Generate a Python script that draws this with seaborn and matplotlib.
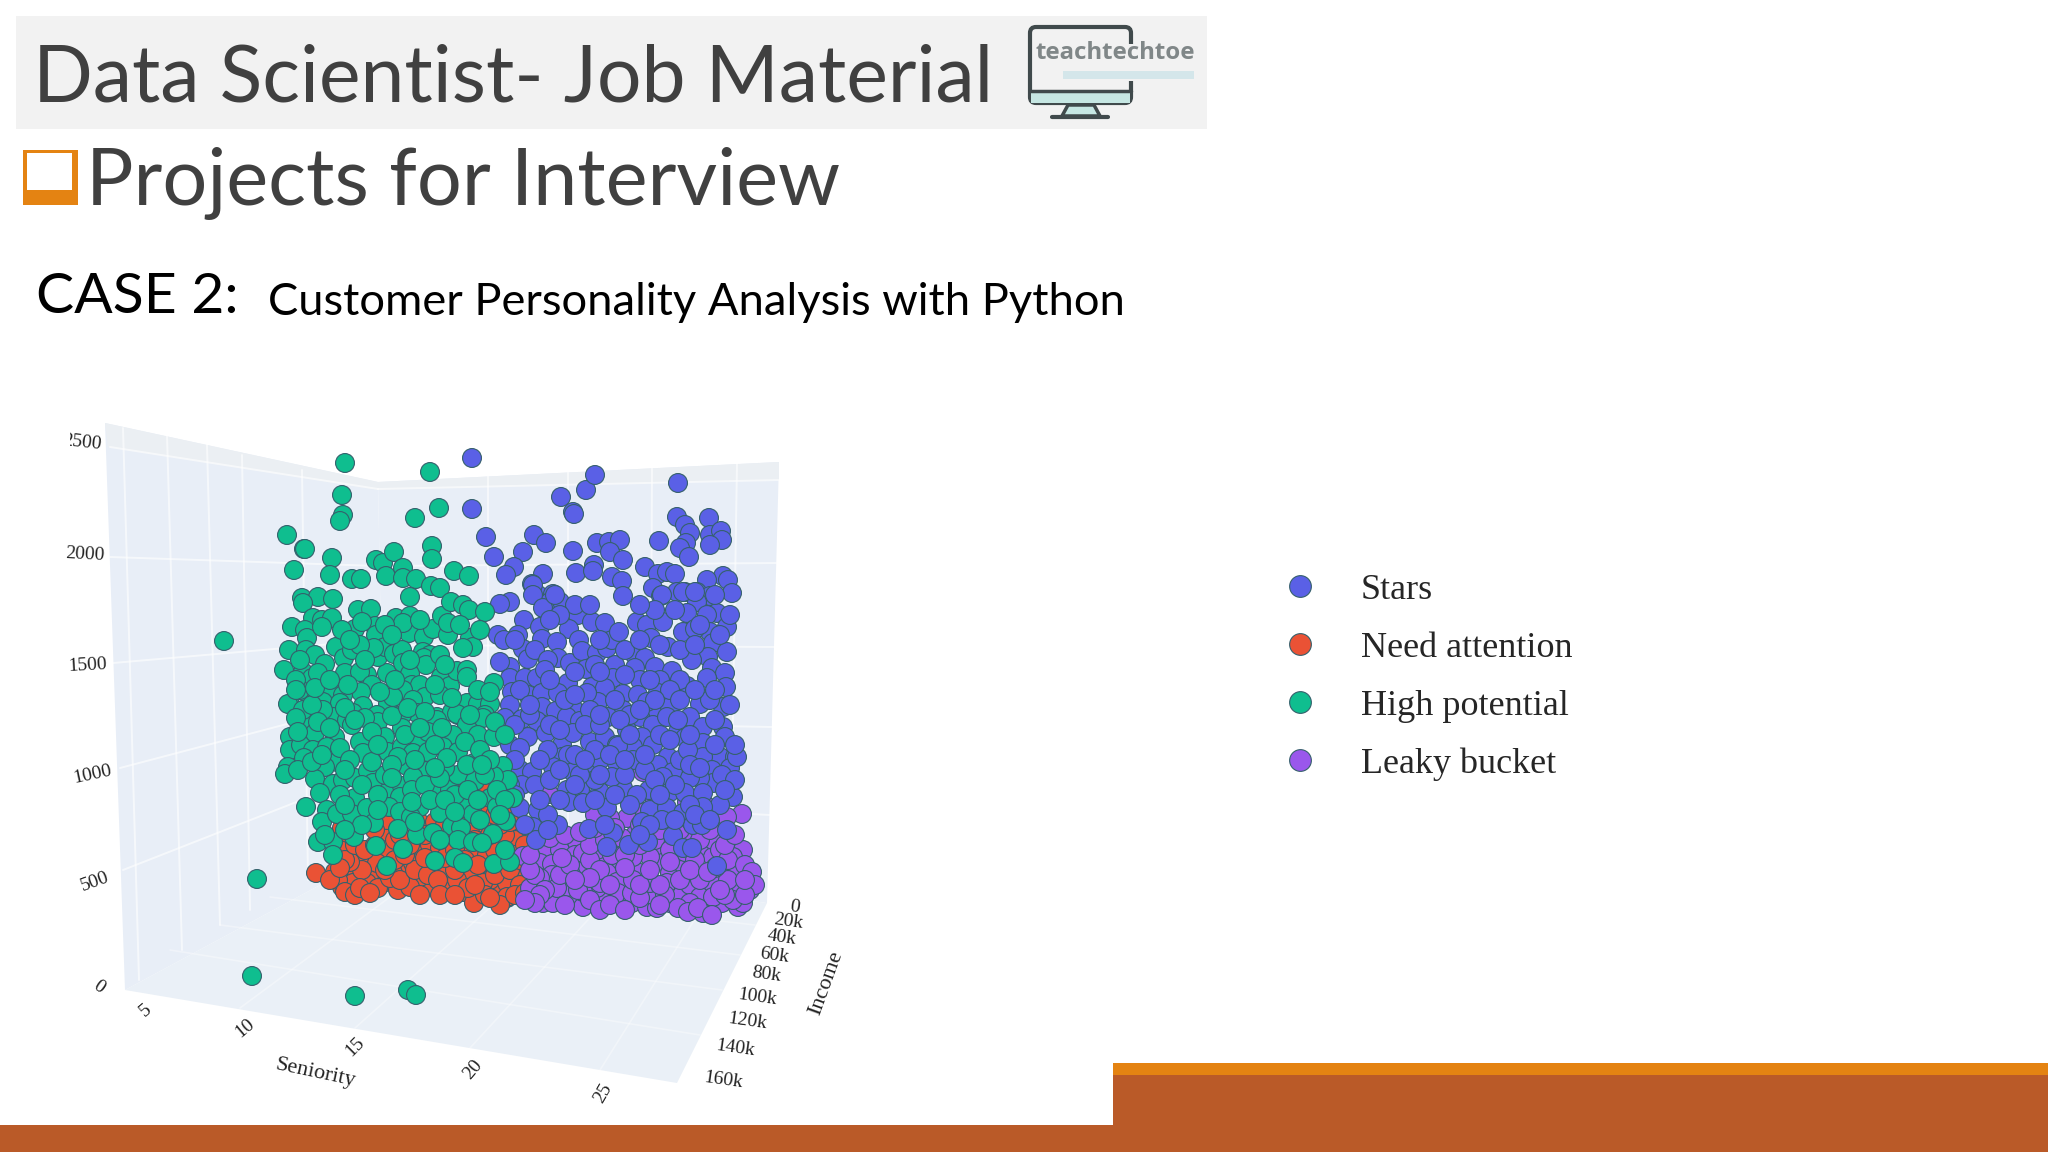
import matplotlib
matplotlib.use("Agg")
import matplotlib.pyplot as plt
from matplotlib.patches import Polygon, Rectangle, FancyBboxPatch
import pandas as pd
import seaborn as sns

# values, in the units of the flat projected chart
high_potential = [
(224,641),(257,879),(252,976),(355,996),(408,990),(416,995),(345,463),(430,472),(342,495),(343,515),(340,521),
(439,508),(415,518),(287,535),(304,549),(294,570),(332,558),(330,575),(432,546),(432,559),
(305,549),(352,579),(361,579),(376,560),(383,563),(394,552),(386,576),(403,568),(403,578),(416,579),(431,586),
(440,588),(454,571),(469,576),(410,597),(302,598),(318,597),(333,599),(303,603),(313,618),(322,620),(332,618),
(292,627),(305,630),(307,638),(322,627),(358,610),(371,609),(355,629),(375,626),(376,635),(362,622),(396,618),
(410,616),(409,633),(403,623),(424,637),(433,629),(442,616),(451,602),(463,605),(469,610),(485,612),(448,635),
(448,623),(470,638),(473,647),(463,648),(289,650),(306,650),(315,655),(336,647),(344,658),(325,664),(284,670),
(303,672),(312,678),(318,673),(345,673),(367,675),(360,672),(387,673),(378,657),(385,647),(374,648),(394,654),
(402,650),(403,663),(423,652),(430,655),(424,658),(426,665),(410,674),(412,685),(420,685),(441,677),(450,686),
(457,671),(467,670),(467,677),(494,683),(372,685),(361,692),(403,690),(308,694),(332,692),(343,695),(290,704),
(323,702),(340,703),(363,706),(388,704),(393,697),(425,697),(440,695),(413,700),(467,703),(478,704),(490,704),
(303,712),(320,710),(333,717),(377,715),(417,713),(437,717),(452,712),(458,715),(485,715),(353,713),(402,715),
(288,704),(307,722),(303,710),(323,710),(347,720),(378,722),(360,742),(385,737),(402,728),(417,740),(437,720),
(428,732),(457,714),(467,725),(483,718),(478,735),(453,735),(494,737),(443,747),(290,737),(290,750),(301,745),
(315,733),(335,737),(313,750),(304,758),(327,747),(337,762),(325,767),(288,767),(285,774),(298,770),(315,779),
(333,784),(320,793),(343,780),(355,778),(368,771),(373,783),(363,753),(388,752),(402,747),(413,753),(428,752),
(407,766),(398,757),(426,771),(388,792),(402,786),(385,775),(413,777),(355,798),(400,797),(436,786),(450,790),
(458,752),(474,763),(458,775),(475,781),(503,766),(508,780),(494,776),(467,765),(445,768),(513,798),(306,807),
(327,810),(322,822),(337,814),(352,814),(367,808),(389,807),(400,812),(420,807),(411,817),(440,813),(465,808),
(473,814),(490,798),(497,807),(506,821),(374,823),(398,829),(417,835),(433,833),(452,826),(461,828),(493,834),
(354,837),(318,842),(333,842),(333,855),(376,846),(403,849),(458,840),(473,842),(482,843),(387,866),(435,861),
(455,858),(463,863),(494,864),(510,862),
(312,705),(296,718),(318,722),(330,728),(345,708),(352,725),(365,718),(372,732),(392,716),(408,708),(425,712),
(442,728),(470,715),(495,722),(505,735),(340,748),(350,760),(372,762),(378,745),(392,765),(405,735),(420,728),
(435,745),(447,758),(465,742),(480,750),(490,760),(298,732),(312,762),(322,755),(345,770),(362,785),(378,795),
(392,778),(412,790),(425,785),(440,778),(455,795),(468,790),(485,775),(497,790),(505,800),(340,795),(345,805),
(362,825),(378,810),(412,802),(430,800),(445,800),(478,800),(455,812),(415,760),(435,768),(482,765),(300,690),
(315,688),(348,685),(380,692),(395,680),(435,685),(452,698),(478,690),(490,692),(330,680),(352,650),(360,645),
(365,660),(410,660),(440,655),(445,665),(342,630),(350,640),(385,625),(392,635),(420,620),(460,625),(480,630),
(300,660),(296,680),(296,690),(345,830),(325,835),(415,822),(480,820),(440,840),(500,815),(505,850),(355,720),
]
need_attention = [
(316,873),(335,872),(342,887),(348,875),(357,875),(353,853),(367,862),(373,880),(383,883),(398,890),(408,873),
(422,865),(433,887),(447,887),(463,892),(474,903),(480,873),(500,890),(507,898),(515,878),(490,880),(342,828),
(345,838),(385,838),(387,850),(370,873),(360,863),(417,850),(430,845),(440,848),(457,817),(450,873),(463,873),
(470,853),(487,855),(503,847),(515,840),(517,825),(483,823),(470,828),(488,790),(463,792),(420,823),(387,820),
(403,867),(420,877),(440,867),(470,877),(483,883),(513,867),(367,883),(353,883),(338,880),(393,873),(413,863),
(377,863),(410,887),(457,880),(503,863),(507,883),(515,840),(520,873),(507,897),
(330,880),(345,892),(355,895),(362,870),(378,888),(390,878),(400,880),(415,870),(428,875),(438,880),(455,870),
(468,888),(485,895),(495,875),(510,870),(520,885),(500,905),(350,862),(340,850),(345,860),(355,845),(365,850),
(375,845),(395,860),(405,855),(425,858),(445,858),(455,850),(465,860),(478,865),(495,850),(505,835),(515,855),
(525,845),(520,860),(395,840),(410,845),(425,835),(445,835),(475,840),(490,835),(355,825),(375,830),(400,835),
(435,822),(445,825),(500,825),(510,810),(510,822),(470,800),(480,810),(495,815),(455,825),(340,868),(385,870),
(420,895),(440,895),(455,895),(475,885),(490,898),(515,895),(525,893),(360,888),(370,893),
]
leaky_bucket = [
(549,794),(742,814),(717,819),(627,818),(607,822),(643,772),(687,802),(547,847),(560,850),(577,842),(575,855),
(523,856),(540,863),(552,864),(552,875),(568,875),(580,868),(588,867),(603,860),(615,862),(607,873),(637,872),
(655,855),(665,862),(670,873),(682,863),(693,873),(703,852),(713,857),(730,843),(743,850),(733,857),(733,868),
(718,878),(712,883),(750,879),(733,887),(540,878),(530,888),(543,903),(553,903),(572,899),(583,907),(605,898),
(597,888),(583,892),(617,882),(618,893),(632,903),(632,893),(647,907),(657,908),(653,895),(670,903),(682,895),
(690,885),(650,883),(703,913),(722,903),(738,907),(700,897),(667,883),(633,880),(600,883),(567,887),(697,837),
(667,840),(635,835),(593,803),(610,818),(727,817),(750,890),(743,903),(687,840),(650,857),(633,857),(617,847),
(597,850),(583,853),(677,852),(713,840),(557,888),(690,903),(713,897),(733,900),
(535,875),(530,870),(545,890),(560,875),(570,865),(590,860),(600,870),(612,855),(625,855),(640,845),(655,840),
(670,850),(685,852),(695,860),(720,850),(728,860),(745,865),(752,872),(755,885),(540,895),(535,903),(565,905),
(578,890),(590,900),(600,910),(610,905),(625,910),(640,898),(665,895),(678,908),(688,912),(698,908),(712,915),
(725,895),(745,895),(728,880),(715,868),(700,880),(680,880),(660,885),(640,885),(625,868),(610,885),(590,878),
(575,880),(562,858),(590,845),(605,840),(622,838),(640,825),(660,830),(680,830),(700,840),(725,845),(710,830),
(735,835),(550,838),(565,835),(580,832),(595,828),(615,828),(690,820),(705,805),(630,800),(645,812),(655,800),
(670,815),(595,815),(525,900),(660,905),(745,880),(530,855),(650,870),(670,862),(690,870),(708,872),(720,890),
]
stars = [
(472,458),(472,509),(486,537),(494,557),(561,497),(586,490),(595,475),(573,512),(574,514),(678,483),(677,517),
(709,518),(534,535),(546,543),(523,552),(514,567),(506,575),(573,551),(576,573),(594,565),(593,571),(597,543),
(609,542),(620,540),(610,552),(623,560),(612,577),(622,581),(623,596),(659,541),(685,525),(690,533),(686,543),
(680,548),(689,557),(710,535),(721,531),(722,540),(710,545),(645,567),(658,574),(667,572),(675,574),(723,576),
(728,580),(732,593),(707,580),(685,592),(677,592),(697,592),(653,588),(661,596),(710,596),(697,602),(543,574),
(532,584),(538,595),(553,594),(550,602),(560,602),(545,609),(575,607),(578,615),(592,622),(605,623),(510,602),
(500,604),(533,585),(533,595),(543,608),(555,595),(575,605),(662,595),(683,592),(695,592),(687,613),(717,613),
(707,615),(727,627),(710,632),(683,632),(695,629),(637,622),(647,625),(663,622),(524,620),(540,627),(498,635),
(504,640),(518,635),(542,639),(569,629),(579,640),(557,642),(523,649),(528,659),(558,658),(570,663),(582,651),
(597,653),(607,648),(612,640),(619,632),(615,665),(586,669),(613,678),(651,638),(668,647),(635,655),(645,658),
(655,667),(635,668),(713,643),(727,652),(708,657),(692,660),(712,668),(725,673),(672,671),(707,678),(687,686),
(680,680),(726,687),(640,680),(660,680),(510,667),(500,662),(510,678),(525,678),(537,678),(528,695),(542,693),
(512,692),(568,683),(558,693),(592,687),(605,688),(598,702),(587,693),(623,694),(638,695),(658,693),(623,710),
(657,710),(647,702),(670,707),(700,704),(723,707),(710,700),(510,705),(542,707),(556,711),(573,708),(505,718),
(522,719),(537,721),(567,717),(580,721),(608,717),(640,717),(653,725),(667,717),(690,717),(703,727),(723,727),
(678,732),(627,730),(510,745),(528,737),(546,733),(562,745),(573,733),(590,742),(605,737),(617,745),(642,737),
(653,745),(633,747),(690,748),(685,738),(703,743),(725,737),(520,748),(668,757),(720,757),(735,757),(703,757),
(562,757),(603,755),(520,770),(532,772),(522,785),(535,785),(520,808),(538,810),(533,827),(536,840),(558,825),
(553,767),(568,755),(573,772),(588,767),(600,760),(618,746),(617,763),(633,760),(658,765),(673,772),(680,760),
(688,750),(712,770),(730,768),(737,757),(713,783),(700,778),(690,778),(663,777),(567,790),(580,790),(600,792),
(569,802),(583,803),(595,780),(623,788),(612,777),(649,790),(637,795),(670,792),(685,793),(703,793),(733,797),
(720,805),(703,807),(607,808),(650,810),(667,808),(683,813),(642,822),(662,820),(693,825),(702,825),(727,830),
(589,829),(613,833),(607,847),(629,845),(648,842),(673,836),(683,848),(692,848),(717,866),
(515,640),(535,650),(548,660),(545,670),(520,690),(515,725),(530,715),(550,725),(565,700),(575,695),(590,710),
(585,725),(600,725),(615,700),(630,715),(650,680),(670,690),(680,700),(695,690),(715,690),(730,705),(715,720),
(678,720),(660,735),(620,720),(595,750),(575,755),(548,750),(540,760),(515,760),(510,785),(550,780),(560,770),
(580,775),(600,775),(625,775),(645,770),(655,780),(675,785),(690,765),(700,768),(722,775),(735,780),(725,790),
(690,805),(675,820),(650,825),(630,805),(615,795),(595,800),(560,800),(548,815),(525,825),(515,795),(600,640),
(595,665),(625,650),(640,640),(660,645),(680,650),(695,645),(720,635),(700,625),(675,610),(655,610),(640,605),
(730,615),(715,595),(560,615),(590,605),(550,620),(625,675),(600,672),(575,672),(550,680),(530,705),(560,730),
(610,755),(630,735),(670,740),(645,755),(690,735),(715,745),(735,745),(655,700),(640,710),(600,715),(585,760),
(575,785),(625,760),(540,800),(548,830),(660,795),(695,815),(710,820),(605,825),(640,835),
]

# legend order and colours
segment_order = ["Stars", "Need attention", "High potential", "Leaky bucket"]
segment_colors = ["#5A60E6", "#EA5235", "#0FBE8F", "#9A57EC"]
# rows go in this order so green sits on red and blue sits on purple
draw_order = [("Need attention", need_attention), ("Leaky bucket", leaky_bucket),
              ("Stars", stars), ("High potential", high_potential)]

spend_ticks = ["2000", "1500", "1000", "500", "0"]
seniority_ticks = ["5", "10", "15", "20", "25"]
income_ticks = ["0", "20k", "40k", "60k", "80k", "100k", "120k", "140k", "160k"]

rows = []
for name, pts in draw_order:
    for x, y in pts:
        rows.append({"x": x, "y": y, "segment": name})
df = pd.DataFrame(rows)

sns.set_theme(style="white")
plt.rcParams["font.family"] = ["Lato", "DejaVu Sans"]

fig = plt.figure(figsize=(20.48, 11.52), dpi=100)
slide = fig.add_axes([0, 0, 1, 1])
slide.set_xlim(0, 2048)
slide.set_ylim(1152, 0)
slide.axis("off")

# slide furniture
slide.add_patch(Rectangle((16, 16), 1191, 113, color="#F2F2F2", lw=0))
slide.text(33, 102, "Data Scientist- Job Material", fontsize=56.7, color="#404040")
slide.add_patch(Rectangle((23, 150), 55, 55, color="#E48312", lw=0))
slide.add_patch(Rectangle((27, 153), 45, 37, color="white", lw=0))
slide.text(86, 205, "Projects for Interview", fontsize=57, color="#404040")
slide.text(36, 313, "CASE 2:", fontsize=41, color="black")
slide.text(268, 315, "Customer Personality Analysis with Python", fontsize=32.6, color="black")

slide.add_patch(Rectangle((0, 1125), 2048, 27, color="#BA5A28", lw=0))
slide.add_patch(Rectangle((1113, 1075), 935, 77, color="#BA5A28", lw=0))
slide.add_patch(Rectangle((1113, 1063), 935, 12, color="#E48312", lw=0))

# logo
slide.add_patch(FancyBboxPatch((1030, 27), 101, 76, boxstyle="round,pad=0,rounding_size=6",
                               fc="none", ec="#404A4C", lw=3))
slide.add_patch(Rectangle((1126, 44), 9, 37, color="#F2F2F2", lw=0))
slide.add_patch(Rectangle((1031, 92), 99, 11, color="#C6E7E3", lw=0))
slide.plot([1030, 1131], [91, 91], color="#404A4C", lw=2.5)
slide.add_patch(Polygon([(1068, 105), (1094, 105), (1100, 116), (1062, 116)], fc="#C6E7E3", ec="#404A4C", lw=2.5))
slide.plot([1052, 1108], [117, 117], color="#404A4C", lw=3)
slide.add_patch(Rectangle((1063, 71), 131, 8, color="#D4E6EA", lw=0))
slide.text(1036, 53, "teachtechtoe", fontsize=17.3, fontweight="bold", color="#808788",
           family=["Open Sans", "DejaVu Sans"], va="center")

# chart, flat projection of the 3d scatter
ax = fig.add_axes([60 / 2048, 1 - 1120 / 1152, 800 / 2048, 700 / 1152])
ax.set_xlim(60, 860)
ax.set_ylim(1120, 420)
ax.axis("off")

wall = "#E8EEF7"
ax.add_patch(Polygon([(105, 423), (378, 482), (385, 850), (125, 990)], fc=wall, lw=0))
ax.add_patch(Polygon([(378, 482), (779, 462), (767, 903), (385, 850)], fc=wall, lw=0))
ax.add_patch(Polygon([(125, 990), (385, 850), (767, 903), (677, 1083)], fc="#EAF0F7", lw=0))
ax.add_patch(Polygon([(105, 423), (378, 482), (378, 490), (108, 447)], fc="#EBEFF3", lw=0))
ax.add_patch(Polygon([(378, 482), (779, 462), (779, 480), (378, 490)], fc="#EBEFF3", lw=0))

wall_lines = [
    [(110, 447), (378, 489)], [(110, 557), (378, 566)], [(113, 663), (378, 640)], [(120, 768), (378, 700)],
    [(123, 870), (378, 770)], [(123, 428), (139, 980)], [(167, 435), (182, 950)], [(207, 445), (220, 925)],
    [(242, 455), (250, 910)], [(302, 470), (308, 880)], [(378, 489), (780, 480)], [(378, 566), (780, 563)],
    [(378, 645), (780, 647)], [(378, 720), (773, 727)], [(378, 795), (770, 815)], [(488, 475), (488, 860)],
    [(568, 470), (568, 875)], [(652, 467), (650, 885)], [(737, 463), (730, 900)],
]
floor_lines = [
    [(240, 1008), (440, 860)], [(355, 1028), (530, 872)], [(470, 1048), (620, 885)], [(600, 1070), (710, 895)],
    [(170, 950), (700, 1035)], [(220, 925), (722, 990)], [(270, 897), (740, 955)], [(320, 875), (755, 925)],
]
for line in wall_lines:
    ax.plot([p[0] for p in line], [p[1] for p in line], color="white", lw=1.4, alpha=0.6, zorder=1)
for line in floor_lines:
    ax.plot([p[0] for p in line], [p[1] for p in line], color="white", lw=1.2, alpha=0.35, zorder=1)

sns.scatterplot(data=df, x="x", y="y", hue="segment", hue_order=segment_order,
                palette=dict(zip(segment_order, segment_colors)), s=185,
                edgecolor="#35606C", linewidth=0.8, ax=ax, zorder=3, legend=True)
sns.move_legend(ax, "upper left", bbox_to_anchor=((1231 - 60) / 800, 1 - (541 - 420) / 700),
                title=None, frameon=False, markerscale=1.15, labelspacing=0.685,
                handletextpad=0.7, prop={"family": "Liberation Serif", "size": 26})

# tick labels, each one follows the 3d axis
label_font = ["Liberation Serif", "DejaVu Serif"]
clip = Rectangle((70, 420), 60, 60, transform=ax.transData)
t = ax.text(82, 443, "2500", fontsize=14, family=label_font, ha="center", va="center", rotation=-6,
            color="#222222", clip_on=True)
t.set_clip_path(clip)
for label, (x, y, r) in zip(spend_ticks, [(85, 555, -3), (87, 665, 3), (92, 775, 12), (95, 882, 20), (99, 987, -35)]):
    ax.text(x, y, label, fontsize=14, family=label_font, ha="center", va="center", rotation=r, color="#222222")
for label, (x, y, r) in zip(seniority_ticks, [(146, 1010, 40), (245, 1028, 40), (355, 1047, 45), (473, 1070, 50), (603, 1093, 60)]):
    ax.text(x, y, label, fontsize=14, family=label_font, ha="center", va="center", rotation=r, color="#222222")
income_pos = [(795, 907), (788, 922), (782, 938), (774, 956), (766, 975), (757, 997), (747, 1021), (735, 1048), (723, 1080)]
for label, (x, y) in zip(income_ticks, income_pos):
    ax.text(x, y, label, fontsize=14, family=label_font, ha="center", va="center", rotation=-8, color="#222222")
ax.text(315, 1073, "Seniority", fontsize=16, family=label_font, ha="center", va="center", rotation=-12, color="#222222")
ax.text(826, 983, "Income", fontsize=16, family=label_font, ha="center", va="center", rotation=70, color="#222222")

fig.savefig("out.png", dpi=100)
